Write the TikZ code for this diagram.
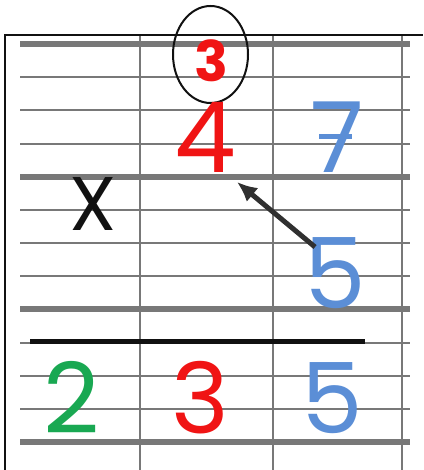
\documentclass[tikz,border=0pt]{standalone}
\usepackage{fontspec}
\setmainfont{Poppins}
\usetikzlibrary{arrows.meta,shapes.geometric}
\definecolor{paper}{HTML}{FFFFFF}
\definecolor{grid}{HTML}{787878}
\definecolor{ink}{HTML}{111111}
\definecolor{pointer}{HTML}{303030}
\definecolor{hot}{HTML}{F01414}
\definecolor{cool}{HTML}{5B8ED6}
\definecolor{leaf}{HTML}{19A852}
\newcommand{\RowTop}{44}
\newcommand{\RowGap}{33.17}
\newcommand{\GridL}{20}
\newcommand{\GridR}{410}

\begin{document}
\begin{tikzpicture}[x=1pt, y=-1pt,
    thinrow/.style={draw=grid, line width=2pt},
    thickrow/.style={draw=grid, line width=6pt},
    column/.style={draw=grid, line width=2pt},
    frame/.style={draw=ink, line width=2pt},
    digit/.style={inner sep=0pt, anchor=base, font=\fontsize{98}{98}\selectfont},
    pointer/.style={-{Latex[length=20pt, width=18pt]}, line width=5pt, draw=pointer},
  ]
\useasboundingbox (0,0) rectangle (423,470);

% --- The ruled paper ------------------------------------------------------------
\foreach \i in {0,...,12} {
  \pgfmathtruncatemacro{\r}{mod(\i,4)}
  \ifnum\r=0
    \draw[thickrow] (\GridL, \RowTop+\i*\RowGap) -- (\GridR, \RowTop+\i*\RowGap);
  \else
    \draw[thinrow] (\GridL, \RowTop+\i*\RowGap) -- (\GridR, \RowTop+\i*\RowGap);
  \fi
}
\foreach \x in {140,273,402} {
  \draw[column] (\x, 35) -- (\x, 470);
}
\draw[frame] (5, 470) -- (5, 35) -- (423, 35);

% --- The sum --------------------------------------------------------------------
\node[digit, font=\fontsize{56}{56}\selectfont\bfseries, text=hot] (carry) at (211, 82) {3};
\node[draw=ink, line width=2pt, ellipse, minimum width=75pt, minimum height=97pt] (ring) at (210.5, 54.5) {};
\node[digit, text=hot] (tens) at (205, 172) {4};
\node[digit, text=cool] (units) at (337, 172) {7};
\draw[cool, line width=5pt] (319, 137) -- (352, 137);
\node[digit, font=\fontsize{76}{76}\selectfont, text=ink] (times) at (93, 230) {X};
\node[digit, text=cool] (factor) at (335, 308) {5};
\draw[ink, line width=5pt] (30, 341) -- (365, 341);
\node[digit, text=leaf] (hundreds) at (72, 433) {2};
\node[digit, text=hot] (restens) at (200, 433) {3};
\node[digit, text=cool] (resunits) at (332, 433) {5};

% --- The carry goes up ----------------------------------------------------------
\coordinate (from) at (315, 247);
\coordinate (to) at (237, 182);
\draw[pointer] (from) -- (to);

\end{tikzpicture}
\end{document}
